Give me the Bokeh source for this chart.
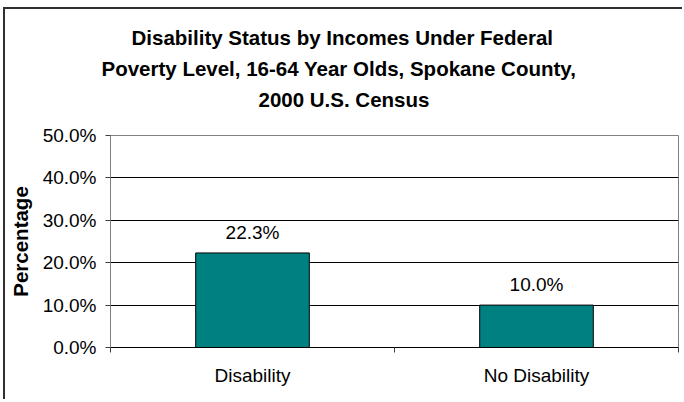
from bokeh.plotting import figure
from bokeh.models import (Range1d, FixedTicker, NumeralTickFormatter, ColumnDataSource,
                          LabelSet, Title)
from bokeh.core.properties import value
from bokeh.embed import file_html
from bokeh.resources import INLINE

# ---- data ----
categories = ["Disability", "No Disability"]
percent_values = [0.223, 0.100]
value_labels = ["22.3%", "10.0%"]
y_ticks = [0.0, 0.1, 0.2, 0.3, 0.4, 0.5]
title_lines = ["Disability Status by Incomes Under Federal",
               "Poverty Level, 16-64 Year Olds, Spokane County,",
               "2000 U.S. Census"]

FONT = "Liberation Sans"

x_centers = [i + 0.5 for i in range(len(categories))]
x_bounds = [i for i in range(len(categories) + 1)]

src = ColumnDataSource(dict(x=x_centers, top=percent_values, label=value_labels))

p = figure(width=679, height=392, output_backend="svg", toolbar_location=None,
           title=None,
           x_range=Range1d(0, len(categories)), y_range=Range1d(y_ticks[0], y_ticks[-1]),
           min_border_left=104, min_border_right=6, min_border_top=126, min_border_bottom=54,
           background_fill_color="white", border_fill_color="white")
p.margin = (7, 0, 0, 3)
p.styles = {"border-left": "2px solid #303030", "border-top": "2px solid #303030"}

p.vbar(x="x", top="top", bottom=0, width=0.4, source=src,
       fill_color="#008080", line_color="black", line_width=1)

labels = LabelSet(x="x", y="top", text="label", source=src, text_align="center",
                  text_baseline="bottom", y_offset=10, text_font=value(FONT),
                  text_font_size=value("19px"), text_color="black")
p.add_layout(labels)

# spacer between frame and title block
p.add_layout(Title(text=" ", text_font=FONT, text_font_size="10px", standoff=9), "above")
# titles (nearest to the frame first)
offsets = [148, -9, 21]
for line, off in zip(reversed(title_lines), offsets):
    t = Title(text=line, align="left", offset=off, text_font=FONT, text_font_size="20.5px",
              text_font_style="bold", text_color="black", standoff=6)
    p.add_layout(t, "above")

# x axis
xa = p.xaxis[0]
xa.ticker = FixedTicker(ticks=x_centers, minor_ticks=x_bounds)
xa.major_label_overrides = {c: n for c, n in zip(x_centers, categories)}
xa.major_tick_in = 0
xa.major_tick_out = 0
xa.minor_tick_in = 0
xa.minor_tick_out = 5
xa.minor_tick_line_color = "#404040"
xa.axis_line_color = "black"
xa.major_label_text_font = FONT
xa.major_label_text_font_size = "19px"
xa.major_label_text_color = "black"
xa.major_label_standoff = 12

# y axis
ya = p.yaxis[0]
ya.ticker = FixedTicker(ticks=y_ticks)
ya.formatter = NumeralTickFormatter(format="0.0%")
ya.major_tick_in = 0
ya.major_tick_out = 5
ya.minor_tick_line_color = None
ya.major_tick_line_color = "#404040"
ya.axis_line_color = "#808080"
ya.major_label_text_font = FONT
ya.major_label_text_font_size = "19px"
ya.major_label_text_color = "black"
ya.major_label_standoff = 9
ya.axis_label = "Percentage"
ya.axis_label_text_font = FONT
ya.axis_label_text_font_size = "20.5px"
ya.axis_label_text_font_style = "bold"
ya.axis_label_text_color = "black"
ya.axis_label_standoff = 8

p.xgrid.visible = False
p.ygrid.ticker = FixedTicker(ticks=y_ticks[1:-1])
p.ygrid.grid_line_color = "black"
p.ygrid.grid_line_width = 1

p.outline_line_color = "#808080"
p.outline_line_width = 1

open("out.html", "w").write(file_html(p, INLINE))
